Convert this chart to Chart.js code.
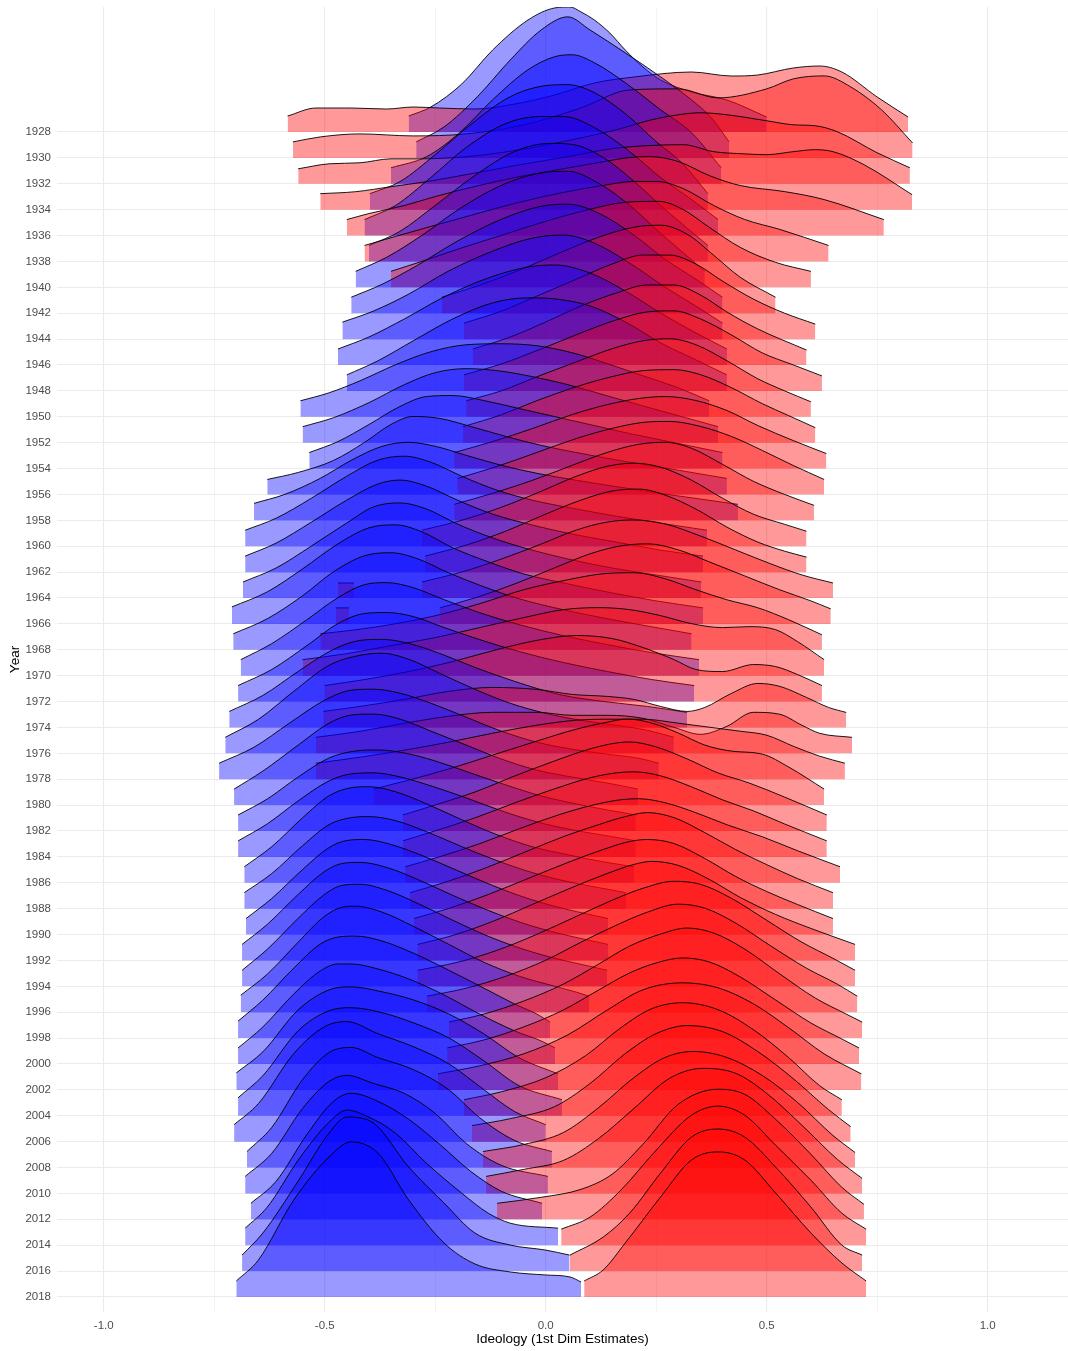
<!DOCTYPE html>
<html>
<head>
<meta charset="utf-8">
<script src="https://cdn.jsdelivr.net/npm/chart.js@4.4.1/dist/chart.umd.min.js"></script>
<style>
  html, body { margin: 0; padding: 0; background: #fff; }
  #wrap { width: 1068px; height: 1351px; }
</style>
</head>
<body>
<div id="wrap"><canvas id="ridges" width="1068" height="1351"></canvas></div>
<script>
// Years on the y axis (one ridge pair per Congress year)
const YEARS = [1928, 1930, 1932, 1934, 1936, 1938, 1940, 1942, 1944, 1946, 1948, 1950,
  1952, 1954, 1956, 1958, 1960, 1962, 1964, 1966, 1968, 1970, 1972, 1974, 1976, 1978,
  1980, 1982, 1984, 1986, 1988, 1990, 1992, 1994, 1996, 1998, 2000, 2002, 2004, 2006,
  2008, 2010, 2012, 2014, 2016, 2018];

const X_TICKS = [-1, -0.75, -0.5, -0.25, 0, 0.25, 0.5, 0.75, 1];
const X_TICK_LABELS = ["-1.0", "", "-0.5", "", "0.0", "", "0.5", "", "1.0"];

// Democrat density ridges, [ideology, density], one per year
const DEM_CURVES = [
  [[-0.31,1.6],[-0.26,2.5],[-0.19,4.8],[-0.12,8.2],[-0.04,11.2],[0.02,12.4],[0.055,12.5],[0.08,12.0],[0.11,11.2],[0.145,9.9],[0.18,8.2],[0.22,6.5],[0.26,5.2],[0.33,4.0],[0.41,3.2],[0.50,1.5]],
  [[-0.293,1.6],[-0.23,3.1],[-0.155,6.1],[-0.08,9.8],[-0.01,12.8],[0.05,14.1],[0.10,12.8],[0.18,10.5],[0.26,8.1],[0.33,5.8],[0.375,4.0],[0.415,1.6]],
  [[-0.35,1.6],[-0.27,2.7],[-0.195,5.1],[-0.12,8.4],[-0.04,11.4],[0.02,12.7],[0.06,12.9],[0.11,12.1],[0.18,10.1],[0.26,7.4],[0.33,5.1],[0.397,1.6]],
  [[-0.398,1.6],[-0.33,2.8],[-0.25,5.5],[-0.17,8.5],[-0.08,11.3],[0.0,12.4],[0.05,12.5],[0.11,11.7],[0.18,9.6],[0.25,6.8],[0.31,4.6],[0.367,1.6]],
  [[-0.41,1.6],[-0.34,3.0],[-0.26,5.8],[-0.18,8.8],[-0.09,11.2],[-0.01,11.9],[0.04,11.9],[0.11,10.8],[0.19,8.4],[0.26,5.8],[0.33,3.6],[0.39,1.6]],
  [[-0.40,1.6],[-0.33,3.0],[-0.25,5.6],[-0.16,8.6],[-0.07,11.0],[0.01,11.8],[0.06,11.7],[0.13,10.4],[0.20,8.0],[0.27,5.2],[0.367,1.6]],
  [[-0.43,1.6],[-0.36,3.0],[-0.28,5.2],[-0.19,8.0],[-0.09,10.4],[0.0,11.5],[0.05,11.6],[0.12,10.4],[0.19,8.2],[0.26,5.4],[0.31,3.5],[0.36,1.6]],
  [[-0.44,1.6],[-0.37,2.9],[-0.29,4.8],[-0.2,7.2],[-0.1,9.4],[-0.01,10.7],[0.05,10.9],[0.12,10.0],[0.20,7.8],[0.27,5.4],[0.34,3.4],[0.40,1.6]],
  [[-0.46,1.7],[-0.39,2.8],[-0.31,4.5],[-0.22,6.8],[-0.12,8.8],[-0.03,10.1],[0.04,10.4],[0.11,9.6],[0.19,7.6],[0.27,5.2],[0.34,3.3],[0.40,1.6]],
  [[-0.47,1.6],[-0.40,2.8],[-0.32,4.6],[-0.23,6.8],[-0.13,8.7],[-0.04,9.8],[0.02,10.0],[0.10,9.2],[0.18,7.4],[0.26,5.2],[0.34,3.2],[0.41,1.6]],
  [[-0.45,1.6],[-0.38,3.0],[-0.30,5.0],[-0.21,7.2],[-0.12,8.8],[-0.04,9.3],[0.02,9.2],[0.10,8.5],[0.18,6.9],[0.26,4.8],[0.34,3.1],[0.41,1.6]],
  [[-0.555,1.6],[-0.49,2.4],[-0.42,3.6],[-0.34,5.2],[-0.26,6.5],[-0.18,7.2],[-0.10,7.3],[-0.02,7.1],[0.06,6.4],[0.14,5.3],[0.22,4.1],[0.30,2.9],[0.37,1.6]],
  [[-0.55,1.6],[-0.48,2.5],[-0.40,4.0],[-0.32,5.8],[-0.25,7.0],[-0.18,7.4],[-0.11,7.2],[-0.03,6.6],[0.05,5.8],[0.13,4.8],[0.21,3.8],[0.30,2.7],[0.39,1.6]],
  [[-0.535,1.6],[-0.47,2.7],[-0.40,4.4],[-0.33,6.2],[-0.27,7.2],[-0.21,7.3],[-0.14,6.8],[-0.06,6.0],[0.02,5.2],[0.10,4.4],[0.19,3.5],[0.29,2.6],[0.40,1.6]],
  [[-0.63,1.5],[-0.56,2.2],[-0.48,3.4],[-0.41,5.2],[-0.35,7.0],[-0.30,7.8],[-0.24,7.6],[-0.17,6.8],[-0.09,5.8],[-0.01,4.9],[0.08,4.1],[0.18,3.3],[0.29,2.5],[0.41,1.6]],
  [[-0.66,1.7],[-0.59,2.6],[-0.51,4.2],[-0.44,6.0],[-0.37,7.4],[-0.31,7.8],[-0.25,7.4],[-0.18,6.5],[-0.10,5.5],[-0.02,4.7],[0.07,4.0],[0.17,3.3],[0.29,2.5],[0.435,1.6]],
  [[-0.68,1.6],[-0.61,2.8],[-0.53,4.8],[-0.45,7.0],[-0.38,8.6],[-0.32,9.0],[-0.26,8.4],[-0.19,7.0],[-0.11,5.6],[-0.03,4.6],[0.06,3.8],[0.16,3.0],[0.26,2.3],[0.365,1.6]],
  [[-0.68,1.6],[-0.61,2.9],[-0.53,5.0],[-0.45,7.2],[-0.38,8.8],[-0.33,9.2],[-0.27,8.6],[-0.20,7.2],[-0.12,5.8],[-0.03,4.7],[0.06,3.8],[0.16,3.0],[0.26,2.2],[0.356,1.6]],
  [[-0.685,1.6],[-0.61,3.0],[-0.53,5.2],[-0.45,7.5],[-0.39,9.1],[-0.33,9.5],[-0.27,8.9],[-0.20,7.4],[-0.12,6.0],[-0.04,4.9],[0.05,3.9],[0.15,3.0],[0.25,2.3],[0.352,1.6]],
  [[-0.71,1.7],[-0.63,3.2],[-0.55,5.5],[-0.47,8.0],[-0.40,9.6],[-0.34,9.9],[-0.28,9.2],[-0.21,7.6],[-0.13,6.2],[-0.05,5.0],[0.05,4.0],[0.15,3.1],[0.25,2.3],[0.356,1.6]],
  [[-0.707,1.6],[-0.63,3.1],[-0.55,5.4],[-0.48,7.8],[-0.41,9.4],[-0.35,9.7],[-0.29,9.1],[-0.22,7.7],[-0.14,6.3],[-0.06,5.1],[0.04,4.0],[0.14,3.1],[0.24,2.3],[0.33,1.6]],
  [[-0.69,1.6],[-0.62,3.2],[-0.54,5.6],[-0.47,7.8],[-0.41,9.1],[-0.36,9.3],[-0.30,8.8],[-0.23,7.6],[-0.15,6.3],[-0.06,5.1],[0.04,4.0],[0.14,3.1],[0.24,2.3],[0.347,1.6]],
  [[-0.696,1.6],[-0.62,3.2],[-0.54,5.6],[-0.47,7.8],[-0.41,8.8],[-0.36,8.9],[-0.30,8.5],[-0.23,7.4],[-0.15,6.2],[-0.06,5.0],[0.04,3.9],[0.14,3.0],[0.24,2.2],[0.336,1.6]],
  [[-0.716,1.6],[-0.64,3.2],[-0.56,5.6],[-0.48,7.8],[-0.42,8.7],[-0.37,8.8],[-0.31,8.4],[-0.24,7.4],[-0.16,6.0],[-0.07,4.6],[0.03,3.3],[0.13,2.6],[0.23,2.1],[0.32,1.5]],
  [[-0.725,1.6],[-0.65,3.4],[-0.57,6.2],[-0.49,8.8],[-0.42,9.8],[-0.37,10.0],[-0.31,9.4],[-0.24,8.0],[-0.16,6.4],[-0.08,5.0],[0.0,4.0],[0.08,3.3],[0.16,2.8],[0.23,2.3],[0.29,1.6]],
  [[-0.739,1.6],[-0.66,3.2],[-0.58,5.6],[-0.50,7.9],[-0.44,8.9],[-0.39,9.0],[-0.33,8.6],[-0.26,7.6],[-0.18,6.2],[-0.10,4.8],[-0.02,3.7],[0.06,3.0],[0.14,2.5],[0.21,2.1],[0.256,1.6]],
  [[-0.705,1.6],[-0.64,3.4],[-0.56,6.0],[-0.49,8.2],[-0.44,9.0],[-0.39,9.1],[-0.33,8.6],[-0.26,7.4],[-0.18,6.0],[-0.10,4.6],[-0.02,3.5],[0.06,2.8],[0.14,2.2],[0.209,1.6]],
  [[-0.696,1.6],[-0.63,3.2],[-0.56,5.4],[-0.49,7.3],[-0.43,8.0],[-0.38,8.1],[-0.32,7.8],[-0.25,7.0],[-0.17,5.8],[-0.09,4.6],[-0.01,3.5],[0.07,2.7],[0.14,2.1],[0.204,1.6]],
  [[-0.696,1.6],[-0.63,3.3],[-0.56,5.6],[-0.49,7.6],[-0.44,8.3],[-0.39,8.4],[-0.33,8.0],[-0.26,7.1],[-0.18,5.9],[-0.10,4.6],[-0.02,3.5],[0.06,2.7],[0.14,2.1],[0.204,1.6]],
  [[-0.682,1.6],[-0.62,3.6],[-0.55,6.5],[-0.49,8.7],[-0.44,9.5],[-0.40,9.6],[-0.34,9.1],[-0.27,7.9],[-0.19,6.3],[-0.11,4.8],[-0.03,3.6],[0.05,2.8],[0.13,2.1],[0.20,1.6]],
  [[-0.682,1.6],[-0.62,3.5],[-0.55,6.3],[-0.49,8.4],[-0.44,9.1],[-0.40,9.2],[-0.34,8.8],[-0.27,7.7],[-0.19,6.2],[-0.11,4.8],[-0.03,3.6],[0.05,2.7],[0.12,2.1],[0.182,1.6]],
  [[-0.678,1.6],[-0.62,3.6],[-0.55,6.5],[-0.49,8.7],[-0.45,9.4],[-0.41,9.5],[-0.35,9.0],[-0.28,7.9],[-0.20,6.4],[-0.12,4.9],[-0.04,3.6],[0.04,2.6],[0.10,2.0],[0.141,1.6]],
  [[-0.687,1.6],[-0.63,3.6],[-0.56,6.6],[-0.50,8.9],[-0.46,9.7],[-0.42,9.8],[-0.36,9.3],[-0.29,8.1],[-0.21,6.5],[-0.13,5.0],[-0.05,3.7],[0.03,2.7],[0.10,2.0],[0.141,1.6]],
  [[-0.687,1.6],[-0.63,3.7],[-0.56,6.8],[-0.50,9.2],[-0.46,10.1],[-0.42,10.2],[-0.36,9.6],[-0.29,8.3],[-0.21,6.6],[-0.13,5.0],[-0.05,3.7],[0.03,2.7],[0.10,2.0],[0.139,1.6]],
  [[-0.69,1.7],[-0.63,3.8],[-0.56,7.0],[-0.50,9.6],[-0.46,10.5],[-0.43,10.6],[-0.37,10.0],[-0.30,8.6],[-0.22,6.8],[-0.14,5.0],[-0.06,3.6],[0.02,2.6],[0.07,2.0],[0.098,1.6]],
  [[-0.696,1.7],[-0.64,3.8],[-0.57,7.0],[-0.51,9.4],[-0.47,10.1],[-0.43,10.2],[-0.37,9.7],[-0.30,8.5],[-0.22,6.8],[-0.14,5.0],[-0.07,3.4],[-0.02,2.4],[0.01,1.6]],
  [[-0.696,1.6],[-0.64,3.7],[-0.57,7.0],[-0.51,9.3],[-0.47,10.0],[-0.44,10.0],[-0.38,9.5],[-0.31,8.5],[-0.23,6.9],[-0.15,5.0],[-0.07,3.3],[-0.01,2.3],[0.021,1.6]],
  [[-0.70,1.7],[-0.64,3.8],[-0.56,8.0],[-0.49,10.0],[-0.44,10.3],[-0.37,9.8],[-0.30,9.0],[-0.22,7.6],[-0.14,5.6],[-0.06,3.2],[0.028,1.6]],
  [[-0.696,1.8],[-0.64,4.0],[-0.56,8.5],[-0.49,10.5],[-0.44,10.8],[-0.37,10.3],[-0.30,9.3],[-0.22,7.8],[-0.14,5.5],[-0.06,3.0],[0.037,1.6]],
  [[-0.705,1.7],[-0.65,3.8],[-0.57,8.8],[-0.50,11.5],[-0.45,12.0],[-0.38,10.8],[-0.30,9.5],[-0.22,7.8],[-0.14,5.2],[-0.07,3.0],[0.0,1.7]],
  [[-0.676,1.6],[-0.62,4.0],[-0.55,8.8],[-0.49,11.5],[-0.44,12.0],[-0.38,11.0],[-0.30,9.8],[-0.22,7.8],[-0.15,5.0],[-0.07,2.7],[0.014,1.6]],
  [[-0.68,1.7],[-0.62,4.0],[-0.55,8.5],[-0.49,11.2],[-0.45,11.8],[-0.39,11.0],[-0.32,10.0],[-0.25,8.0],[-0.18,5.0],[-0.10,2.8],[0.005,1.7]],
  [[-0.667,1.6],[-0.61,3.8],[-0.54,8.5],[-0.48,11.8],[-0.44,12.6],[-0.38,11.8],[-0.31,10.0],[-0.24,7.5],[-0.17,4.8],[-0.10,2.8],[-0.008,1.6]],
  [[-0.68,1.7],[-0.63,3.8],[-0.56,8.5],[-0.49,12.3],[-0.45,13.5],[-0.40,12.8],[-0.34,11.2],[-0.27,8.2],[-0.19,5.2],[-0.13,3.2],[-0.08,2.2],[0.028,1.7]],
  [[-0.687,1.6],[-0.64,3.8],[-0.56,9.0],[-0.49,13.8],[-0.45,15.4],[-0.39,14.8],[-0.31,10.4],[-0.23,6.8],[-0.16,3.8],[-0.08,2.6],[0.0,2.1],[0.054,1.6]],
  [[-0.70,1.6],[-0.65,3.7],[-0.57,9.7],[-0.49,14.0],[-0.44,15.5],[-0.38,14.4],[-0.31,9.7],[-0.23,5.4],[-0.16,3.3],[-0.08,2.5],[0.0,2.2],[0.055,2.0],[0.08,1.5]]
];

// Republican density ridges, same layout
const REP_CURVES = [
  [[-0.584,1.6],[-0.52,2.4],[-0.44,2.4],[-0.36,2.3],[-0.30,2.5],[-0.24,2.4],[-0.16,2.3],[-0.07,2.8],[0.02,3.7],[0.11,4.9],[0.20,5.5],[0.33,6.0],[0.42,5.6],[0.48,5.7],[0.56,6.4],[0.62,6.6],[0.67,6.0],[0.75,3.5],[0.82,1.5]],
  [[-0.572,1.6],[-0.51,2.1],[-0.42,2.4],[-0.30,2.2],[-0.18,2.4],[-0.05,3.3],[0.08,5.0],[0.19,6.8],[0.30,6.9],[0.39,6.0],[0.50,6.9],[0.56,7.9],[0.63,8.2],[0.69,7.1],[0.76,4.8],[0.83,1.5]],
  [[-0.56,1.5],[-0.49,2.0],[-0.42,2.1],[-0.35,2.5],[-0.28,2.5],[-0.18,2.7],[-0.06,3.4],[0.06,4.4],[0.16,5.4],[0.24,6.4],[0.30,6.9],[0.35,7.1],[0.41,6.9],[0.50,6.3],[0.56,5.9],[0.61,5.8],[0.66,5.2],[0.75,3.1],[0.824,1.6]],
  [[-0.51,1.6],[-0.43,1.8],[-0.35,2.3],[-0.27,2.8],[-0.18,3.5],[-0.07,4.4],[0.05,5.3],[0.15,6.1],[0.23,6.4],[0.31,6.5],[0.38,5.8],[0.44,5.6],[0.50,5.5],[0.56,5.8],[0.61,6.0],[0.65,5.8],[0.72,4.5],[0.829,1.5]],
  [[-0.45,1.6],[-0.40,2.2],[-0.32,3.0],[-0.25,3.9],[-0.17,4.8],[-0.07,5.8],[0.03,6.6],[0.12,7.3],[0.19,7.8],[0.235,7.9],[0.30,7.4],[0.37,6.0],[0.44,5.0],[0.54,4.4],[0.63,3.6],[0.765,1.6]],
  [[-0.41,1.6],[-0.34,2.5],[-0.26,3.5],[-0.17,4.6],[-0.07,5.8],[0.04,6.9],[0.13,7.6],[0.20,8.0],[0.25,8.0],[0.31,7.3],[0.38,5.6],[0.45,4.2],[0.53,3.2],[0.64,1.6]],
  [[-0.35,1.6],[-0.28,2.6],[-0.2,3.8],[-0.1,5.2],[0.0,6.6],[0.1,7.8],[0.18,8.5],[0.255,8.6],[0.31,7.8],[0.37,6.0],[0.44,4.0],[0.52,2.5],[0.60,1.6]],
  [[-0.235,1.6],[-0.15,2.8],[-0.06,4.3],[0.03,6.0],[0.12,7.6],[0.20,8.6],[0.26,8.8],[0.32,7.9],[0.38,5.8],[0.44,3.6],[0.52,1.6]],
  [[-0.185,1.6],[-0.10,2.8],[-0.02,4.3],[0.07,6.0],[0.15,7.5],[0.22,8.4],[0.28,8.4],[0.34,7.5],[0.40,5.8],[0.47,4.0],[0.54,2.6],[0.61,1.5]],
  [[-0.165,1.6],[-0.08,2.8],[0.0,4.3],[0.08,5.9],[0.16,7.2],[0.23,8.0],[0.29,8.0],[0.35,7.0],[0.41,5.3],[0.48,3.6],[0.59,1.5]],
  [[-0.185,1.6],[-0.10,2.7],[-0.01,4.2],[0.08,5.8],[0.16,7.1],[0.23,7.9],[0.29,8.0],[0.35,7.2],[0.42,5.6],[0.49,3.8],[0.56,2.6],[0.625,1.5]],
  [[-0.18,1.6],[-0.10,2.6],[-0.02,4.0],[0.07,5.5],[0.15,6.8],[0.22,7.6],[0.28,7.8],[0.34,7.2],[0.41,5.6],[0.48,3.8],[0.54,2.6],[0.60,1.5]],
  [[-0.187,1.6],[-0.10,2.8],[-0.02,4.2],[0.07,5.6],[0.15,6.6],[0.22,7.2],[0.29,7.3],[0.35,6.8],[0.42,5.5],[0.49,3.9],[0.55,2.7],[0.61,1.5]],
  [[-0.207,1.6],[-0.12,2.7],[-0.03,4.0],[0.06,5.4],[0.14,6.4],[0.21,7.0],[0.27,7.2],[0.34,6.8],[0.41,5.8],[0.48,4.3],[0.56,2.8],[0.635,1.5]],
  [[-0.20,1.6],[-0.11,2.8],[-0.02,4.2],[0.07,5.6],[0.15,6.6],[0.22,7.2],[0.28,7.3],[0.35,6.8],[0.42,5.8],[0.49,4.4],[0.56,2.9],[0.63,1.5]],
  [[-0.207,1.6],[-0.12,2.7],[-0.03,4.0],[0.06,5.5],[0.14,6.8],[0.21,7.6],[0.27,7.8],[0.33,7.2],[0.40,5.6],[0.47,3.9],[0.54,2.6],[0.607,1.5]],
  [[-0.28,1.6],[-0.19,2.6],[-0.10,3.9],[-0.01,5.5],[0.07,7.0],[0.14,8.0],[0.20,8.3],[0.26,7.9],[0.33,6.6],[0.40,4.8],[0.47,3.2],[0.54,2.2],[0.59,1.5]],
  [[-0.273,1.6],[-0.18,2.7],[-0.09,4.1],[0.0,5.8],[0.08,7.2],[0.15,8.1],[0.21,8.3],[0.27,7.7],[0.34,6.3],[0.41,4.5],[0.48,3.0],[0.54,2.1],[0.59,1.5]],
  [[-0.28,1.6],[-0.19,2.6],[-0.10,3.9],[-0.01,5.4],[0.07,6.8],[0.14,7.6],[0.20,7.8],[0.27,7.4],[0.35,6.2],[0.43,4.8],[0.51,3.4],[0.58,2.3],[0.65,1.5]],
  [[-0.24,1.6],[-0.16,2.6],[-0.07,4.0],[0.02,5.6],[0.10,7.0],[0.17,7.8],[0.23,8.0],[0.30,7.4],[0.37,6.2],[0.45,4.8],[0.53,3.4],[0.60,2.3],[0.645,1.5]],
  [[-0.51,1.6],[-0.43,2.0],[-0.34,2.6],[-0.25,3.4],[-0.15,4.6],[-0.05,6.0],[0.05,7.0],[0.13,7.6],[0.20,7.7],[0.27,7.1],[0.34,6.0],[0.41,5.0],[0.48,4.2],[0.55,3.0],[0.625,1.5]],
  [[-0.55,1.6],[-0.45,2.2],[-0.35,3.0],[-0.25,3.8],[-0.15,4.8],[-0.05,5.8],[0.04,6.6],[0.12,6.8],[0.19,6.6],[0.26,6.0],[0.33,5.2],[0.40,4.8],[0.46,4.9],[0.52,4.6],[0.57,3.4],[0.63,1.6]],
  [[-0.50,1.6],[-0.41,2.2],[-0.31,3.0],[-0.21,4.0],[-0.11,5.2],[-0.01,6.2],[0.07,6.6],[0.15,6.3],[0.22,5.4],[0.29,4.2],[0.34,3.2],[0.40,3.0],[0.47,3.7],[0.52,3.5],[0.57,2.7],[0.625,1.6]],
  [[-0.503,1.6],[-0.42,2.1],[-0.32,2.8],[-0.22,3.6],[-0.12,4.0],[-0.02,3.8],[0.06,3.3],[0.14,3.1],[0.20,2.8],[0.26,2.1],[0.32,1.6],[0.36,2.0],[0.42,3.4],[0.48,4.4],[0.53,4.1],[0.59,3.0],[0.64,2.0],[0.68,1.5]],
  [[-0.52,1.6],[-0.42,2.2],[-0.32,3.0],[-0.22,3.7],[-0.12,4.1],[-0.02,4.1],[0.06,3.8],[0.14,3.8],[0.22,3.5],[0.29,2.6],[0.35,1.9],[0.41,2.7],[0.47,4.1],[0.53,3.9],[0.58,2.8],[0.62,2.0],[0.693,1.6]],
  [[-0.52,1.6],[-0.42,2.2],[-0.32,2.9],[-0.22,3.7],[-0.12,4.6],[-0.02,5.4],[0.07,5.9],[0.15,6.0],[0.22,6.0],[0.30,5.6],[0.37,5.2],[0.44,4.8],[0.50,4.4],[0.56,3.3],[0.62,2.3],[0.677,1.6]],
  [[-0.39,1.6],[-0.31,2.5],[-0.22,3.6],[-0.12,5.0],[-0.02,6.4],[0.07,7.6],[0.14,8.3],[0.185,8.6],[0.24,8.2],[0.30,7.2],[0.36,6.0],[0.42,5.4],[0.49,5.1],[0.55,3.8],[0.63,1.6]],
  [[-0.323,1.6],[-0.25,2.6],[-0.16,3.9],[-0.07,5.5],[0.02,7.0],[0.10,8.2],[0.16,8.8],[0.19,8.9],[0.25,8.4],[0.32,7.2],[0.39,5.8],[0.46,4.8],[0.54,3.4],[0.636,1.6]],
  [[-0.323,1.6],[-0.25,2.6],[-0.16,3.9],[-0.07,5.4],[0.02,6.8],[0.10,7.9],[0.16,8.4],[0.20,8.5],[0.26,8.1],[0.33,7.0],[0.40,5.7],[0.47,4.6],[0.54,3.3],[0.636,1.6]],
  [[-0.318,1.6],[-0.24,2.6],[-0.15,3.9],[-0.06,5.4],[0.03,6.8],[0.11,7.8],[0.17,8.3],[0.21,8.4],[0.27,8.0],[0.34,7.0],[0.41,5.8],[0.49,4.6],[0.57,3.2],[0.666,1.6]],
  [[-0.307,1.6],[-0.23,2.6],[-0.14,4.0],[-0.05,5.6],[0.04,7.2],[0.12,8.4],[0.18,9.2],[0.23,9.6],[0.29,9.1],[0.36,7.6],[0.43,5.9],[0.50,4.4],[0.57,3.0],[0.65,1.6]],
  [[-0.298,1.6],[-0.22,2.6],[-0.13,4.0],[-0.04,5.6],[0.05,7.2],[0.13,8.5],[0.19,9.3],[0.23,9.5],[0.29,9.1],[0.36,7.6],[0.43,5.8],[0.50,4.3],[0.57,3.0],[0.65,1.6]],
  [[-0.29,1.6],[-0.21,2.5],[-0.12,3.9],[-0.03,5.6],[0.06,7.3],[0.14,8.7],[0.20,9.6],[0.24,9.9],[0.30,9.5],[0.37,8.1],[0.44,6.3],[0.52,4.6],[0.60,3.2],[0.70,1.6]],
  [[-0.29,1.6],[-0.20,2.4],[-0.11,3.6],[-0.02,5.2],[0.07,7.0],[0.15,8.6],[0.22,9.8],[0.29,10.5],[0.35,10.2],[0.42,8.8],[0.50,6.6],[0.58,4.4],[0.65,2.8],[0.70,1.6]],
  [[-0.269,1.6],[-0.18,2.4],[-0.09,3.6],[0.0,5.2],[0.08,7.0],[0.16,8.7],[0.23,10.0],[0.30,10.8],[0.36,10.4],[0.43,8.9],[0.51,6.6],[0.59,4.4],[0.66,2.8],[0.705,1.6]],
  [[-0.219,1.6],[-0.14,2.4],[-0.05,3.7],[0.04,5.4],[0.12,7.4],[0.19,9.2],[0.26,10.4],[0.32,11.0],[0.38,10.5],[0.45,8.9],[0.53,6.4],[0.61,4.0],[0.68,2.4],[0.716,1.6]],
  [[-0.223,1.6],[-0.14,2.4],[-0.05,3.7],[0.04,5.4],[0.12,7.4],[0.19,9.1],[0.25,10.1],[0.31,10.6],[0.37,10.2],[0.44,8.7],[0.52,6.4],[0.60,4.1],[0.67,2.5],[0.709,1.6]],
  [[-0.244,1.6],[-0.15,2.4],[-0.05,3.6],[0.05,5.5],[0.14,8.0],[0.22,10.0],[0.31,10.7],[0.39,10.2],[0.47,8.6],[0.55,6.2],[0.63,3.6],[0.714,1.6]],
  [[-0.185,1.6],[-0.10,2.4],[0.0,3.8],[0.09,6.0],[0.17,8.8],[0.24,10.7],[0.31,11.3],[0.39,10.6],[0.47,8.6],[0.55,5.8],[0.62,3.0],[0.67,1.6]],
  [[-0.167,1.6],[-0.08,2.3],[0.02,3.5],[0.10,5.8],[0.18,8.8],[0.25,10.8],[0.32,11.6],[0.40,11.0],[0.48,9.0],[0.56,6.3],[0.64,3.2],[0.69,1.5]],
  [[-0.142,1.6],[-0.05,2.3],[0.04,3.5],[0.12,6.0],[0.20,9.0],[0.27,11.0],[0.334,11.6],[0.41,11.0],[0.49,9.2],[0.57,6.5],[0.65,3.2],[0.70,1.5]],
  [[-0.135,1.7],[-0.05,2.4],[0.04,3.3],[0.12,5.5],[0.20,8.5],[0.28,11.5],[0.356,12.5],[0.43,12.0],[0.50,10.0],[0.58,6.8],[0.66,3.4],[0.716,1.5]],
  [[-0.11,1.6],[-0.01,2.2],[0.08,3.0],[0.15,4.5],[0.22,7.5],[0.30,11.5],[0.39,13.0],[0.45,12.5],[0.52,10.0],[0.60,6.5],[0.67,3.2],[0.72,1.5]],
  [[0.035,1.6],[0.10,2.8],[0.17,5.5],[0.25,9.5],[0.33,13.0],[0.39,13.9],[0.45,13.0],[0.52,10.0],[0.60,6.5],[0.67,3.2],[0.725,1.6]],
  [[0.055,1.6],[0.13,3.4],[0.19,5.8],[0.26,9.8],[0.33,13.4],[0.39,14.2],[0.45,13.4],[0.52,10.4],[0.60,6.4],[0.67,2.6],[0.716,1.6]],
  [[0.087,1.6],[0.13,2.7],[0.18,5.4],[0.26,10.0],[0.33,13.7],[0.39,14.5],[0.45,13.7],[0.52,10.4],[0.60,6.4],[0.67,3.4],[0.725,1.6]]
];

// two tiny extra Republican slivers on the far left
const EXTRA_REP_YEARS = [1964, 1966];
const EXTRA_REP_CURVES = [
  [[-0.47,1.5],[-0.434,1.5]],
  [[-0.475,1.6],[-0.445,1.6]]
];

const BLUE_FILL = "rgba(0, 0, 255, 0.4)";
const RED_FILL = "rgba(255, 0, 0, 0.4)";
const HEIGHT_SCALE = 0.773;   // years of y axis per density unit
const FONT = "'Liberation Sans', Arial, Helvetica, sans-serif";

let datasets = [];

function addRidge(curve, year, fillColor) {
  datasets.push({
    data: curve.map(p => ({ x: p[0], y: year - p[1] * HEIGHT_SCALE })),
    fill: { value: year },
    backgroundColor: fillColor,
    borderColor: "#000",
    borderWidth: 0.9,
    pointRadius: 0,
    pointHoverRadius: 0,
    cubicInterpolationMode: "monotone"
  });
}

// back (1928) to front (2018), Republicans on top within a year
YEARS.forEach((year, i) => {
  addRidge(DEM_CURVES[i], year, BLUE_FILL);
  addRidge(REP_CURVES[i], year, RED_FILL);
  let k = EXTRA_REP_YEARS.indexOf(year);
  if (k >= 0) addRidge(EXTRA_REP_CURVES[k], year, RED_FILL);
});
datasets.forEach((d, s) => { d.order = datasets.length - s; });

const isMajor = v => Math.abs(v * 2 - Math.round(v * 2)) < 1e-6;

new Chart(document.getElementById("ridges"), {
  type: "line",
  data: { datasets: datasets },
  options: {
    responsive: false,
    animation: false,
    devicePixelRatio: 1,
    layout: { autoPadding: false, padding: { top: 7, right: 0, bottom: 0, left: 0 } },
    plugins: { legend: { display: false }, tooltip: { enabled: false } },
    scales: {
      x: {
        type: "linear",
        min: -1.1057,
        max: 1.1817,
        afterBuildTicks: s => { s.ticks = X_TICKS.map(v => ({ value: v })); },
        afterFit: s => { s.height = 39; },
        grid: {
          color: "#ebebeb",
          lineWidth: ctx => (ctx.tick && isMajor(ctx.tick.value) ? 1.1 : 0.6),
          drawTicks: false
        },
        border: { display: false },
        ticks: {
          autoSkip: false,
          maxRotation: 0,
          padding: 7,
          color: "#4d4d4d",
          font: { family: FONT, size: 11.5 },
          callback: (v, i) => X_TICK_LABELS[i]
        },
        title: {
          display: true,
          text: "Ideology (1st Dim Estimates)",
          color: "#000",
          font: { family: FONT, size: 13.5 },
          padding: { top: 0, bottom: 4 }
        }
      },
      y: {
        type: "linear",
        reverse: true,
        min: 1918.34,
        max: 2019.16,
        afterBuildTicks: s => { s.ticks = YEARS.map(v => ({ value: v })); },
        // fixed axis width, and no extra room reserved for the end labels
        afterFit: s => { s.width = 57; s.paddingTop = 0; s.paddingBottom = 0; },
        grid: { color: "#ebebeb", lineWidth: 1.1, drawTicks: false },
        border: { display: false },
        ticks: {
          autoSkip: false,
          padding: 6,
          color: "#4d4d4d",
          font: { family: FONT, size: 11.5 },
          callback: v => String(v)
        },
        title: {
          display: true,
          text: "Year",
          color: "#000",
          font: { family: FONT, size: 13.5 },
          padding: { top: 7, bottom: 0 }
        }
      }
    }
  }
});
</script>
</body>
</html>
